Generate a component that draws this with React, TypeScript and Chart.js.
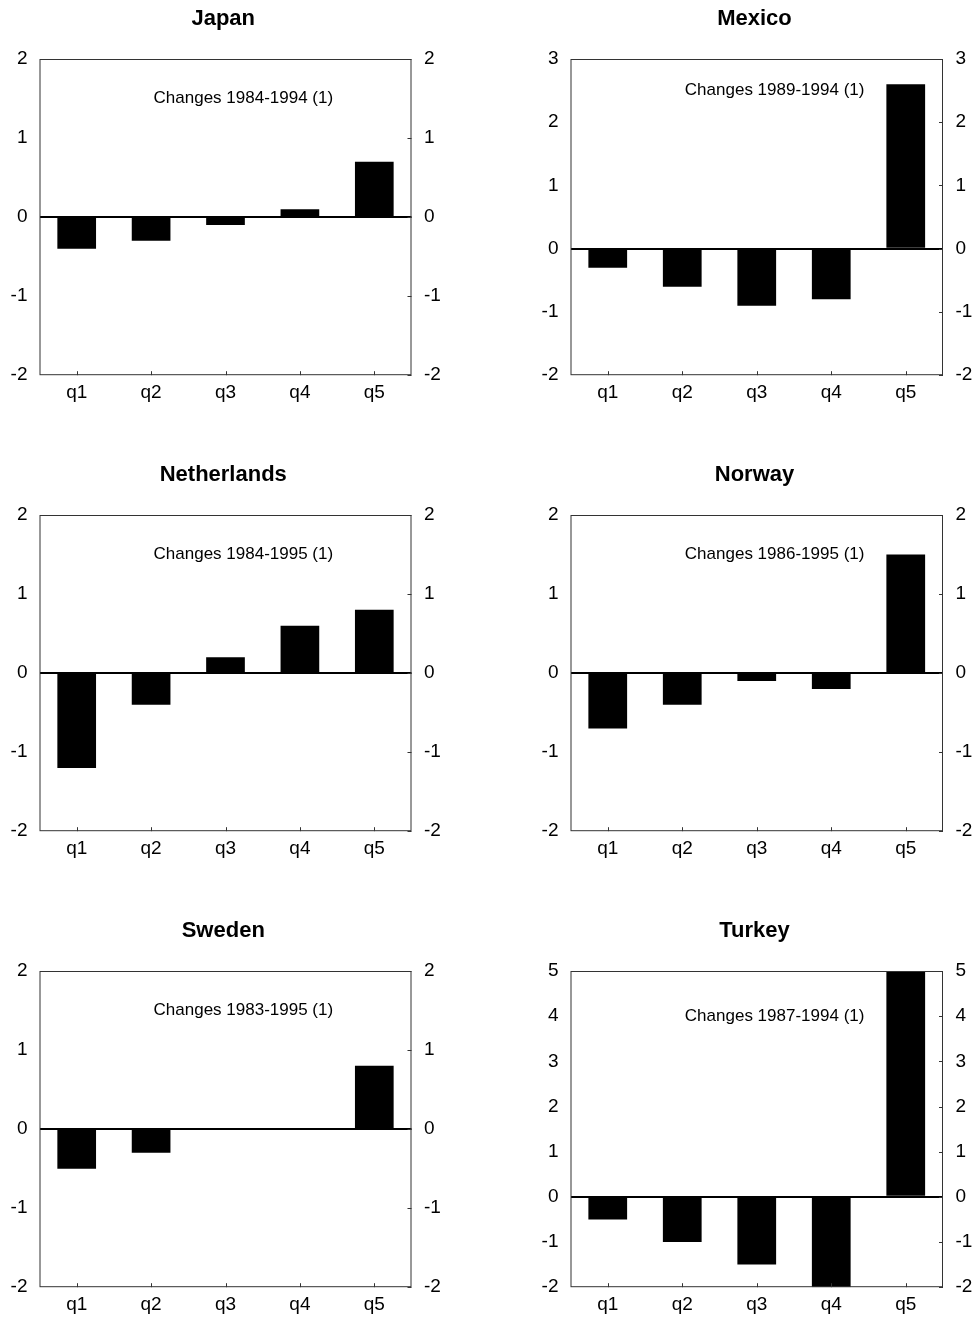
import React, { useEffect, useRef } from "react";
import { Chart, registerables } from "chart.js";

Chart.register(...registerables);

const categories = ["q1", "q2", "q3", "q4", "q5"];

const japanValues = [-0.4, -0.3, -0.1, 0.1, 0.7];
const mexicoValues = [-0.3, -0.6, -0.9, -0.8, 2.6];
const netherlandsValues = [-1.2, -0.4, 0.2, 0.6, 0.8];
const norwayValues = [-0.7, -0.4, -0.1, -0.2, 1.5];
const swedenValues = [-0.5, -0.3, 0, 0, 0.8];
const turkeyValues = [-0.5, -1.0, -1.5, -2.0, 5.0];

const countries = ["Japan", "Mexico", "Netherlands", "Norway", "Sweden", "Turkey"];
const notes = [
  "Changes 1984-1994 (1)",
  "Changes 1989-1994 (1)",
  "Changes 1984-1995 (1)",
  "Changes 1986-1995 (1)",
  "Changes 1983-1995 (1)",
  "Changes 1987-1994 (1)",
];
const axisMin = [-2, -2, -2, -2, -2, -2];
const axisMax = [2, 3, 2, 2, 2, 5];
const noteX = [2.24, 2.24, 2.24, 2.24, 2.24, 2.24];
const noteY = [1.5, 2.5, 1.5, 1.5, 1.5, 4.0];
const seriesList = [japanValues, mexicoValues, netherlandsValues, norwayValues, swedenValues, turkeyValues];

const FONT = "'Liberation Sans', Arial, Helvetica, sans-serif";
const CW = 489;
const CH = 456;

const framePlugin = {
  id: "frame",
  afterDraw(chart: any, _args: any, opts: any) {
    const { ctx, chartArea: a, scales } = chart;
    ctx.save();
    ctx.strokeStyle = "#333";
    ctx.lineWidth = 1;
    ctx.strokeRect(a.left + 0.5, a.top + 0.5, a.right - a.left - 1, a.bottom - a.top - 1);
    const y2 = scales.y2;
    y2.ticks.forEach((_t: any, i: number) => {
      const py = Math.round(y2.getPixelForTick(i)) + 0.5;
      ctx.beginPath();
      ctx.moveTo(a.right - 4, py);
      ctx.lineTo(a.right, py);
      ctx.stroke();
    });
    const x = scales.x;
    x.ticks.forEach((_t: any, i: number) => {
      const px = Math.round(x.getPixelForTick(i)) + 0.5;
      ctx.beginPath();
      ctx.moveTo(px, a.bottom - 4);
      ctx.lineTo(px, a.bottom);
      ctx.stroke();
    });
    if (opts && opts.note) {
      ctx.fillStyle = "#000";
      ctx.font = `17px ${FONT}`;
      ctx.textAlign = "center";
      ctx.textBaseline = "middle";
      ctx.fillText(opts.note, x.getPixelForValue(opts.nx), scales.y.getPixelForValue(opts.ny));
    }
    ctx.restore();
  },
};

function Panel({ idx }: { idx: number }) {
  const ref = useRef<HTMLCanvasElement | null>(null);
  useEffect(() => {
    if (!ref.current) return;
    const leftCol = idx % 2 === 0;
    const tickFont = { family: FONT, size: 19 };
    const chart = new Chart(ref.current, {
      type: "bar",
      data: {
        labels: categories,
        datasets: [
          {
            data: seriesList[idx],
            backgroundColor: "#000",
            borderWidth: 0,
            barPercentage: 0.52,
            categoryPercentage: 1,
          },
        ],
      },
      options: {
        responsive: false,
        animation: false,
        devicePixelRatio: 1,
        layout: {
          padding: leftCol
            ? { left: 0, right: 42.5, top: 0, bottom: 46 }
            : { left: 42, right: 0, top: 0, bottom: 46 },
        },
        plugins: {
          legend: { display: false },
          tooltip: { enabled: false },
          title: {
            display: true,
            text: countries[idx],
            color: "#000",
            font: { family: FONT, size: 22, weight: "bold" },
            padding: { top: 6, bottom: 26.6 },
          },
          frame: { note: notes[idx], nx: noteX[idx], ny: noteY[idx] },
        } as any,
        scales: {
          x: {
            type: "category",
            grid: { display: false, drawTicks: false },
            border: { display: false },
            ticks: { color: "#000", font: tickFont, padding: 6, maxRotation: 0 },
          },
          y: {
            type: "linear",
            position: "left",
            min: axisMin[idx],
            max: axisMax[idx],
            afterFit: (s: any) => {
              s.width = 39.5;
            },
            grid: {
              drawTicks: false,
              color: (c: any) => (c.tick && c.tick.value === 0 ? "#000" : "rgba(0,0,0,0)"),
              lineWidth: (c: any) => (c.tick && c.tick.value === 0 ? 2 : 0),
            },
            border: { display: false },
            ticks: { stepSize: 1, color: "#000", font: tickFont, padding: 12 },
          },
          y2: {
            type: "linear",
            position: "right",
            min: axisMin[idx],
            max: axisMax[idx],
            afterFit: (s: any) => {
              s.width = 35;
            },
            grid: { display: false, drawTicks: false },
            border: { display: false },
            ticks: { stepSize: 1, color: "#000", font: tickFont, padding: 12.5 },
          },
        },
      } as any,
      plugins: [framePlugin],
    });
    return () => chart.destroy();
  }, [idx]);
  const left = (idx % 2) * CW;
  const top = Math.floor(idx / 2) * CH;
  return (
    <canvas
      ref={ref}
      width={CW}
      height={CH}
      style={{ position: "absolute", left, top, width: CW, height: CH }}
    />
  );
}

export default function App() {
  return (
    <div style={{ position: "absolute", left: 0, top: 0, width: 978, height: 1317, background: "#fff", overflow: "hidden" }}>
      {countries.map((_c, i) => (
        <Panel key={i} idx={i} />
      ))}
    </div>
  );
}
